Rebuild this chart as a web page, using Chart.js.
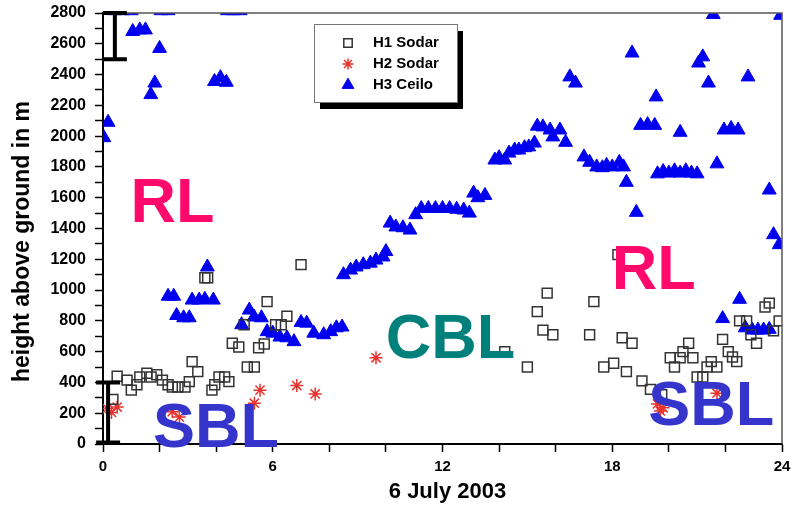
<!DOCTYPE html>
<html>
<head>
<meta charset="utf-8">
<script src="https://cdn.jsdelivr.net/npm/chart.js@4.4.1/dist/chart.umd.min.js"></script>
<style>
html,body{margin:0;padding:0;background:#fff;}
</style>
</head>
<body>
<canvas id="mlhChart" width="791" height="506"></canvas>
<script>
// hour of day (6 July 2003) and height above ground in m
const h1Hours = [0.35,0.5,0.85,1.0,1.2,1.3,1.55,1.7,1.9,2.1,2.3,2.45,2.65,2.9,3.05,3.15,3.35,3.6,3.7,3.85,3.95,4.1,4.3,4.45,4.57,4.8,4.99,5.1,5.35,5.5,5.7,5.8,6.1,6.3,6.5,7.0,
  14.2,15.0,15.35,15.55,15.7,15.9,17.2,17.35,17.7,18.05,18.2,18.35,18.5,18.7,19.05,19.35,19.75,20.05,20.2,20.4,20.5,20.7,20.85,21.0,21.2,21.35,21.5,21.7,21.9,22.1,22.25,22.4,22.5,22.75,22.9,23.1,23.4,23.55,23.7,23.9];
const h1Heights = [290,440,415,350,385,435,460,435,450,415,385,370,370,370,405,535,470,1080,1080,350,385,435,435,405,655,630,775,500,500,625,650,925,775,775,830,1165,
  600,500,860,740,980,710,710,925,500,525,1230,690,470,655,410,355,320,560,500,560,600,655,560,435,435,500,535,500,680,600,565,535,800,800,710,655,890,915,735,800];

const h2Hours = [0.15,0.3,0.5,2.45,2.7,5.35,5.55,6.85,7.5,9.65,19.6,19.7,19.8,21.7];
const h2Heights = [230,205,240,210,175,265,350,380,325,560,260,215,235,330];

const h3Hours = [0.03,0.18,0.4,0.7,1.0,1.05,1.3,1.5,1.69,1.83,2.0,2.05,2.3,2.3,2.5,2.6,2.85,3.05,3.15,3.4,3.6,3.69,3.9,3.94,4.15,4.36,4.4,4.6,4.85,
  4.9,5.17,5.34,5.6,5.8,6.0,6.25,6.5,6.75,7.0,7.2,7.45,7.8,8.05,8.25,8.45,8.5,8.75,8.95,9.2,9.45,9.65,9.9,10.0,
  10.15,10.35,10.6,10.85,11.05,11.25,11.5,11.75,12.0,12.25,12.5,12.75,12.95,13.1,13.25,13.5,13.85,14.0,14.2,14.35,14.55,14.7,14.9,15.05,15.25,
  15.35,15.55,15.8,15.9,16.15,16.35,16.5,16.7,17.0,17.2,17.45,17.65,17.8,18.0,18.25,18.4,18.5,18.7,18.85,19.0,19.25,19.5,19.55,
  19.6,19.8,20.0,20.2,20.4,20.4,20.6,20.8,21.0,21.05,21.2,21.4,21.57,21.7,21.9,21.95,22.2,22.45,22.5,22.7,22.8,22.95,23.15,23.35,23.55,23.55,23.7,23.9,23.95];
const h3Heights = [1990,2090,2815,2815,2815,2680,2690,2690,2270,2345,2570,2815,2815,960,960,835,820,820,935,935,940,1150,935,2355,2380,2350,2815,2815,2815,
  775,870,825,820,730,720,695,690,665,790,785,720,710,730,755,760,1100,1130,1150,1165,1175,1195,1215,1250,
  1435,1410,1405,1390,1490,1530,1530,1530,1530,1530,1525,1520,1500,1630,1600,1615,1845,1860,1845,1890,1910,1910,1925,1930,1955,
  2065,2060,2040,1995,2040,1960,2385,2345,1865,1830,1800,1795,1810,1800,1830,1800,1700,2540,1505,2070,2075,2070,2255,
  1755,1770,1760,1775,1760,2025,1775,1760,1755,2475,2515,2345,2790,1820,815,2040,2050,2040,940,755,2385,740,740,740,745,1650,1360,1295,2785];

// vertical range bars (hour, lower, upper)
const barHours = [0.42, 0.18];
const barLow = [2500, 10];
const barHigh = [2800, 400];

const family = '"Liberation Sans", Arial, Helvetica, sans-serif';

const toPoints = (xs, ys) => xs.map((h, i) => ({x: h, y: ys[i]}));

// layer names written into the plot, anchored in data units
const layerNames = [
  {text: 'RL', hour: 2.46, height: 1442, color: '#ff0a6c'},
  {text: 'RL', hour: 19.47, height: 1007, color: '#ff0a6c'},
  {text: 'CBL', hour: 12.28, height: 559, color: '#00807a'},
  {text: 'SBL', hour: 3.99, height: -20, color: '#3535cc'},
  {text: 'SBL', hour: 21.5, height: 123, color: '#3535cc'}
];

const overlay = {
  id: 'overlay',
  afterDatasetsDraw(chart) {
    const {ctx, chartArea: a, scales: {x, y}} = chart;
    ctx.save();

    // thin frame on top and right
    ctx.strokeStyle = '#555';
    ctx.lineWidth = 1.5;
    ctx.beginPath();
    ctx.moveTo(a.left, a.top);
    ctx.lineTo(a.right, a.top);
    ctx.lineTo(a.right, a.bottom);
    ctx.stroke();

    // range bars
    ctx.strokeStyle = '#000';
    ctx.lineWidth = 4;
    barHours.forEach((h, i) => {
      const px = x.getPixelForValue(h);
      const lo = y.getPixelForValue(barLow[i]);
      const hi = y.getPixelForValue(barHigh[i]);
      ctx.beginPath();
      ctx.moveTo(px, lo); ctx.lineTo(px, hi);
      ctx.moveTo(px - 12, lo); ctx.lineTo(px + 12, lo);
      ctx.moveTo(px - 12, hi); ctx.lineTo(px + 12, hi);
      ctx.stroke();
    });

    // layer names
    ctx.font = 'bold 63px ' + family;
    ctx.textAlign = 'center';
    ctx.textBaseline = 'alphabetic';
    layerNames.forEach(l => {
      ctx.fillStyle = l.color;
      ctx.fillText(l.text, x.getPixelForValue(l.hour), y.getPixelForValue(l.height));
    });

    // legend box with drop shadow
    const bx = 314, by = 24, bw = 143, bh = 78;
    ctx.fillStyle = '#000';
    ctx.fillRect(bx + 6, by + 7, bw, bh);
    ctx.fillStyle = '#fff';
    ctx.fillRect(bx, by, bw, bh);
    ctx.strokeStyle = '#777';
    ctx.lineWidth = 1;
    ctx.strokeRect(bx + 0.5, by + 0.5, bw, bh);
    chart.data.datasets.forEach((ds, i) => {
      const cy = by + 19 + i * 21;
      ctx.fillStyle = ds.backgroundColor;
      ctx.strokeStyle = ds.borderColor;
      ctx.lineWidth = ds.borderWidth;
      Chart.helpers.drawPoint(ctx, {pointStyle: ds.pointStyle, radius: ds.pointRadius * 0.85, borderWidth: ds.borderWidth, rotation: 0}, bx + 34, cy);
      ctx.fillStyle = '#000';
      ctx.font = 'bold 15px ' + family;
      ctx.textAlign = 'left';
      ctx.textBaseline = 'middle';
      ctx.fillText(ds.label, bx + 59, cy);
    });

    // axis titles
    ctx.fillStyle = '#000';
    ctx.textAlign = 'center';
    ctx.textBaseline = 'middle';
    ctx.font = 'bold 22px ' + family;
    ctx.fillText('6 July 2003', (a.left + a.right) / 2 + 5, a.bottom + 48);
    ctx.translate(23, (a.top + a.bottom) / 2 + 13);
    ctx.rotate(-Math.PI / 2);
    ctx.font = 'bold 23px ' + family;
    ctx.fillText('height above ground in m', 0, 0);

    ctx.restore();
  }
};

const tickFont = size => ({family: family, size: size, weight: 'bold'});

new Chart(document.getElementById('mlhChart'), {
  type: 'scatter',
  data: {
    datasets: [
      {label: 'H1 Sodar', data: toPoints(h1Hours, h1Heights), pointStyle: 'rect', pointRadius: 7,
        backgroundColor: 'rgba(255,255,255,0)', borderColor: '#333', borderWidth: 1.5},
      {label: 'H2 Sodar', data: toPoints(h2Hours, h2Heights), pointStyle: 'star', pointRadius: 6.5,
        backgroundColor: '#e8322d', borderColor: '#e8322d', borderWidth: 1.5},
      {label: 'H3 Ceilo', data: toPoints(h3Hours, h3Heights), pointStyle: 'triangle', pointRadius: 8,
        backgroundColor: '#0000ee', borderColor: '#0000ee', borderWidth: 1, clip: 0}
    ]
  },
  options: {
    responsive: false,
    animation: false,
    layout: {padding: {left: 0, right: 5, top: 13, bottom: 0}},
    plugins: {legend: {display: false}, tooltip: {enabled: false}},
    scales: {
      x: {
        type: 'linear', min: 0, max: 24,
        afterFit(s) { s.height = 62; s.paddingLeft = 0; s.paddingRight = 0; },
        border: {color: '#000', width: 2},
        grid: {drawOnChartArea: false, tickLength: 8, tickColor: '#000', tickWidth: 1.5},
        ticks: {stepSize: 2, autoSkip: false, maxRotation: 0, padding: 6, color: '#000', font: tickFont(15),
          callback: v => v % 6 === 0 ? v : ''}
      },
      y: {
        min: 0, max: 2800,
        afterFit(s) { s.width = 103; s.paddingTop = 0; s.paddingBottom = 0; },
        border: {color: '#000', width: 2},
        grid: {drawOnChartArea: false, tickLength: 8, tickColor: '#000', tickWidth: 1.5},
        ticks: {stepSize: 100, autoSkip: false, padding: 9, color: '#000', font: tickFont(16),
          callback: v => v % 200 === 0 ? v : ''}
      }
    }
  },
  plugins: [overlay]
});
</script>
</body>
</html>
